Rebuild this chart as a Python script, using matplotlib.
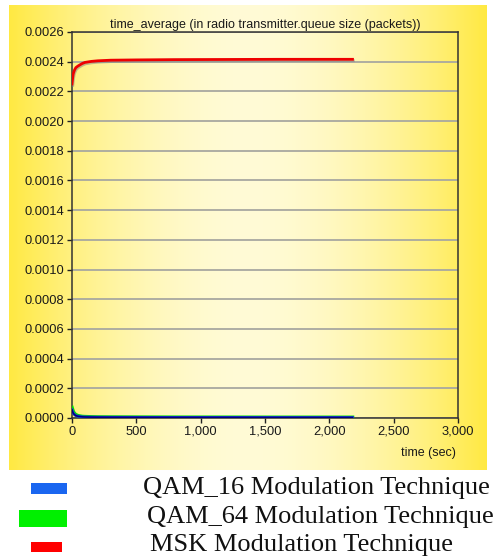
import matplotlib
matplotlib.use("Agg")
import matplotlib.pyplot as plt
import matplotlib.patheffects as pe
import numpy as np
from matplotlib.patches import Rectangle
from matplotlib.ticker import FuncFormatter

# simulation time (sec) and time-averaged queue size (packets)
time_sec = [0, 5, 10, 20, 30, 45, 60, 80, 100, 150, 200, 300, 500, 800, 1200, 1600, 2000, 2180]
msk_queue = [0.00225, 0.00229, 0.00232, 0.002345, 0.00236, 0.00237, 0.002378, 0.002388,
             0.002395, 0.002402, 0.002406, 0.00241, 0.002412, 0.002414, 0.002415,
             0.002416, 0.002416, 0.002416]
qam16_queue = [0.000055, 0.000042, 0.000032, 0.000022, 0.000016, 0.000012, 0.00001,
               0.000008, 0.000007, 0.000006, 0.0000055, 0.000005, 0.0000045, 0.000004,
               0.000004, 0.0000035, 0.0000035, 0.0000035]
qam64_queue = [0.00007, 0.000055, 0.000042, 0.00003, 0.000022, 0.000016, 0.000013,
               0.00001, 0.000009, 0.0000075, 0.0000065, 0.000006, 0.0000055, 0.000005,
               0.0000048, 0.0000045, 0.0000045, 0.0000045]

legend_labels = ["QAM_16 Modulation Technique", "QAM_64 Modulation Technique", "MSK Modulation Technique"]
legend_colors = ["#1a66f0", "#00f000", "#ff0000"]

plt.rcParams["font.family"] = ["Liberation Sans", "DejaVu Sans"]

W, H = 499, 559
fig = plt.figure(figsize=(W / 100, H / 100), dpi=100)
fig.patch.set_facecolor("white")


def px_box(x0, y0, x1, y1):
    # pixel box (top-left origin) -> figure fraction [left, bottom, width, height]
    return [x0 / W, 1 - y1 / H, (x1 - x0) / W, (y1 - y0) / H]


# yellow backdrop, bright at both sides and pale in the middle
bg = fig.add_axes(px_box(9, 5, 487, 470), zorder=0)
xs = np.linspace(-1, 1, 600)
t = np.abs(xs) ** 1.8
pale = np.array([255, 251, 214]) / 255
edge = np.array([255, 233, 66]) / 255
grad = pale[None, :] * (1 - t[:, None]) + edge[None, :] * t[:, None]
bg.imshow(grad[None, :, :], aspect="auto", extent=(0, 1, 0, 1))
bg.set_axis_off()

ax = fig.add_axes(px_box(72, 32, 458, 418), zorder=1)
ax.patch.set_alpha(0)

ax.plot(time_sec, qam64_queue, color="#00e000", lw=2.6, zorder=3)
ax.plot(time_sec, qam16_queue, color="#1a40e0", lw=2.0, zorder=4)
ax.plot(time_sec, qam16_queue, color="#000080", lw=1.2, zorder=5)
ax.plot(time_sec, msk_queue, color="#ee0000", lw=2.0, zorder=5,
        path_effects=[pe.SimpleLineShadow(offset=(0.6, -1.0), shadow_color="#808080", alpha=0.5),
                      pe.Normal()])

ax.set_xlim(0, 3000)
ax.set_ylim(0, 0.0026)
ax.set_xticks(np.arange(0, 3001, 500))
ax.set_yticks(np.arange(0, 0.00261, 0.0002))
ax.xaxis.set_major_formatter(FuncFormatter(lambda v, p: f"{v:,.0f}"))
ax.yaxis.set_major_formatter(FuncFormatter(lambda v, p: f"{v:.4f}"))
ax.grid(axis="y", color="#a8a8a0", lw=1.3)
ax.set_axisbelow(True)
ax.tick_params(direction="out", length=3.5, width=1.0, color="#222222",
               labelsize=9.3, labelcolor="#1a1a1a", pad=2)
for side in ["left", "bottom", "right", "top"]:
    ax.spines[side].set_color("#333333")
    ax.spines[side].set_linewidth(1.1)

ax.set_title("time_average (in radio transmitter.queue size (packets))", fontsize=9.0,
             color="#1a1a1a", pad=3)
ax.set_xlabel("time (sec)", fontsize=9.0, color="#1a1a1a", ha="right")
ax.xaxis.set_label_coords(0.995, -0.075)

# legend keys and labels below the chart
keys = [(31, 483, 67, 494), (19, 510, 67, 527), (31, 542, 62, 552)]
text_pos = [(143, 494), (147, 523), (150, 551.5)]
for (x0, y0, x1, y1), (tx, ty), label, color in zip(keys, text_pos, legend_labels, legend_colors):
    fig.add_artist(Rectangle((x0 / W, 1 - y1 / H), (x1 - x0) / W, (y1 - y0) / H,
                             transform=fig.transFigure, color=color, lw=0))
    fig.text(tx / W, 1 - ty / H, label, family="Liberation Serif", fontsize=19.0,
             color="#111111", va="baseline", ha="left")

fig.savefig("out.png", dpi=100)
